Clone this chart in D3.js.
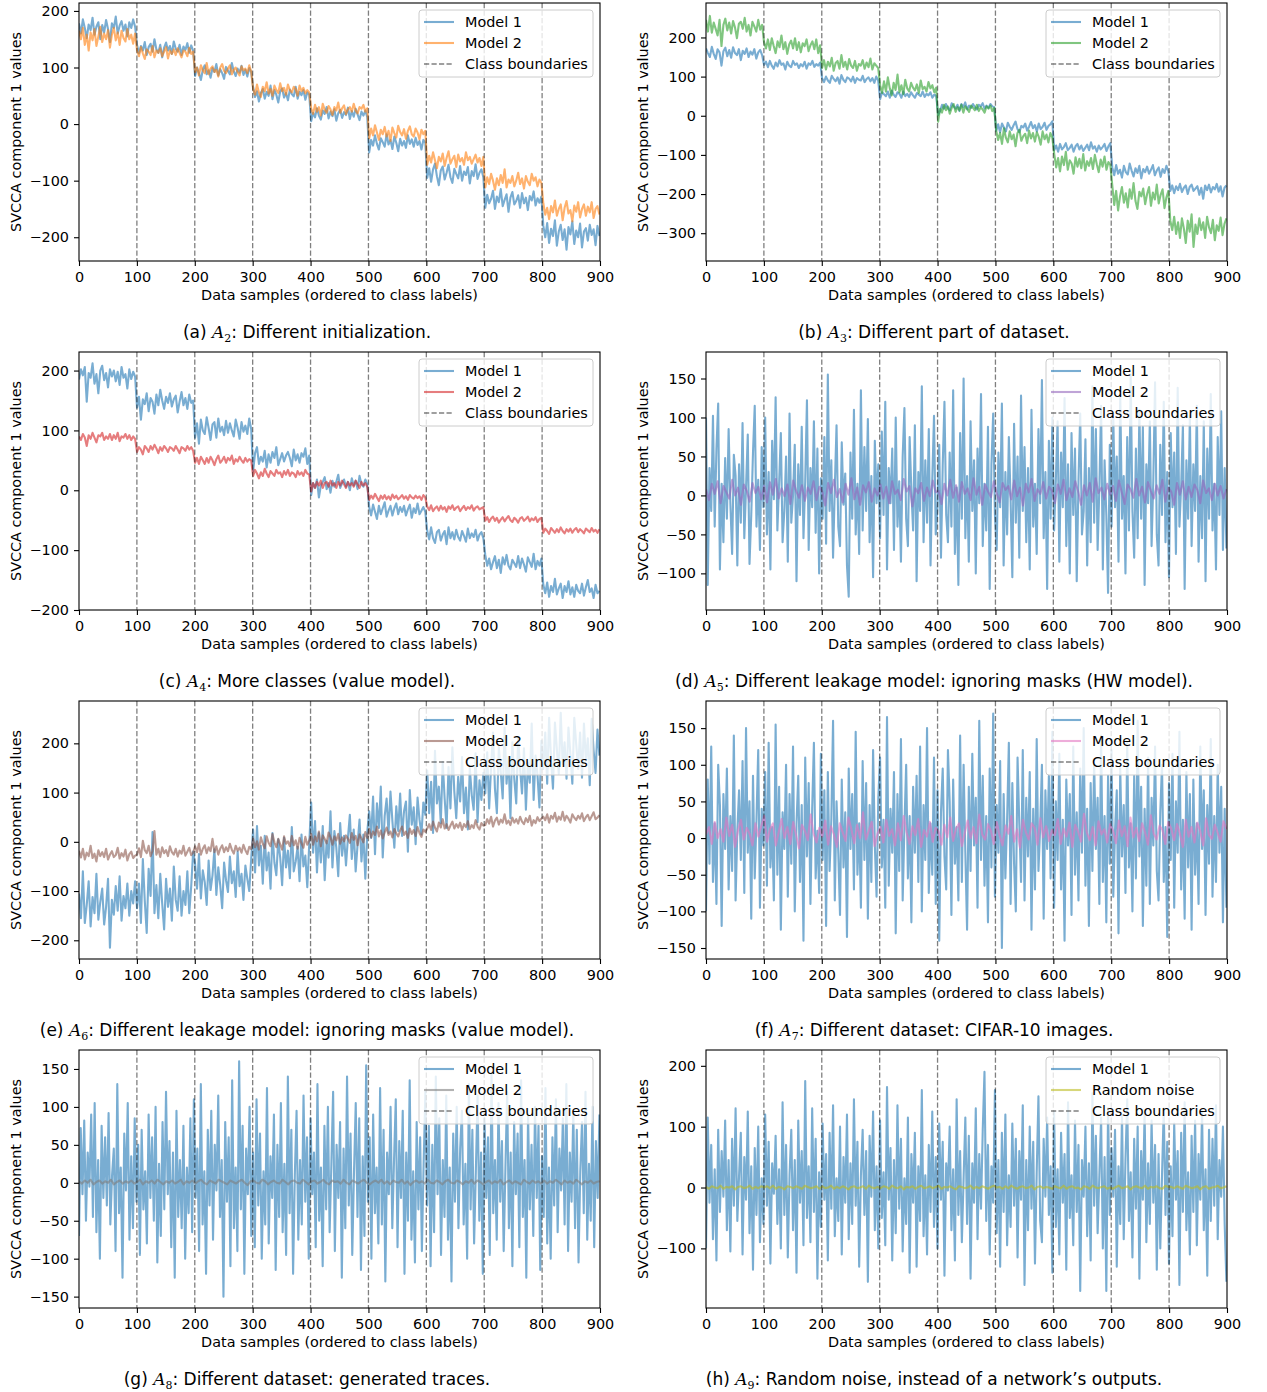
<!DOCTYPE html>
<html>
<head>
<meta charset="utf-8">
<script src="https://cdn.jsdelivr.net/npm/d3@7"></script>
<style>
  body { margin: 0; background: #fff; }
  text { font-family: "DejaVu Sans", sans-serif; fill: #000; }
</style>
</head>
<body>
<svg id="fig" width="1267" height="1392"></svg>
<script>
// SVCCA component-1 values over the data samples, samples ordered by class label.
// Class-structured series keep 30 values per class (one row per class);
// the wide noise-like series keep 300 values, the narrow bands 180.

const xTickLabels = [0, 100, 200, 300, 400, 500, 600, 700, 800, 900];
const classBoundaries = [100, 200, 300, 400, 500, 600, 700, 800];

// (a) A2: different initialization
const a2Model1 = [
  178,160,185,170,152,176,166,188,158,172,180,150,175,162,184,168,145,178,170,190,160,174,182,165,176,155,180,170,185,172,
  140,125,138,130,145,122,136,142,128,150,132,126,140,118,135,144,130,138,124,146,133,128,140,122,137,131,143,126,139,130,
  85,100,90,78,96,104,88,95,82,99,92,106,86,97,90,80,101,94,88,108,93,85,98,91,103,87,96,84,99,92,
  65,48,58,40,55,62,45,57,50,68,44,60,52,38,58,63,47,55,42,61,53,49,66,45,57,51,60,43,56,52,
  5,20,12,28,15,8,24,18,30,10,22,14,26,6,19,25,11,21,16,29,9,23,13,27,17,7,22,15,24,12,
  -50,-28,-38,-20,-35,-45,-25,-32,-40,-18,-36,-28,-44,-22,-33,-48,-26,-38,-30,-42,-20,-35,-27,-40,-24,-37,-30,-45,-28,-33,
  -95,-78,-102,-80,-70,-92,-108,-82,-75,-98,-86,-72,-94,-104,-79,-88,-96,-74,-100,-84,-90,-76,-105,-83,-92,-71,-97,-86,-80,-94,
  -148,-125,-140,-132,-118,-150,-128,-138,-115,-145,-134,-124,-155,-130,-120,-142,-136,-126,-148,-122,-140,-130,-152,-127,-135,-119,-144,-131,-139,-128,
  -180,-200,-175,-210,-185,-198,-170,-215,-190,-178,-205,-186,-222,-182,-195,-172,-212,-188,-200,-176,-218,-190,-184,-206,-178,-196,-186,-214,-180,-198
];
const a2Model2 = [
  165,150,170,140,158,130,162,148,168,138,155,172,145,160,150,166,135,158,170,148,162,140,165,152,146,168,150,158,142,160,
  130,120,136,125,115,132,128,122,138,118,130,126,134,120,128,136,116,130,124,132,122,134,126,118,130,128,120,135,124,128,
  92,100,86,104,95,90,108,88,98,102,92,96,84,100,106,94,90,98,104,88,96,100,92,86,102,95,98,90,104,93,
  62,52,70,56,48,66,58,74,54,62,50,68,60,55,72,58,64,52,70,60,56,66,62,50,68,58,64,54,60,56,
  28,18,34,22,30,15,36,25,20,32,26,16,30,24,38,20,28,33,18,26,30,22,36,24,19,30,27,34,22,28,
  -25,-8,-20,-2,-15,-28,-10,-18,-5,-22,-12,-30,-6,-16,-24,-3,-14,-20,-9,-26,-12,-4,-18,-22,-8,-15,-27,-10,-18,-12,
  -72,-56,-68,-50,-64,-78,-58,-66,-52,-74,-60,-48,-70,-62,-56,-76,-54,-66,-60,-72,-50,-64,-58,-70,-62,-54,-68,-60,-74,-58,
  -112,-94,-106,-88,-100,-116,-96,-108,-90,-104,-80,-112,-98,-104,-92,-110,-100,-86,-106,-96,-114,-92,-102,-108,-88,-100,-94,-110,-98,-104,
  -140,-160,-148,-168,-145,-156,-135,-162,-150,-142,-170,-148,-136,-158,-152,-172,-144,-155,-138,-165,-150,-142,-162,-146,-156,-138,-166,-150,-145,-160
];

// (b) A3: different part of dataset
const a3Model1 = [
  172,160,150,176,158,145,170,162,128,165,174,152,168,148,175,160,155,170,142,166,158,172,150,164,156,170,146,162,168,155,
  130,138,124,140,128,120,136,126,142,130,134,118,138,128,124,140,130,134,122,132,126,138,120,134,130,140,125,132,128,136,
  96,86,100,90,84,102,94,88,98,82,104,92,86,98,95,88,100,84,96,92,90,102,86,94,98,88,96,84,100,90,
  42,60,55,50,62,46,64,54,48,60,56,46,62,50,56,48,60,52,46,58,54,50,62,48,56,52,60,46,54,50,
  2,12,28,18,30,20,14,32,24,18,28,12,30,22,34,16,26,20,30,22,16,28,24,32,18,26,20,30,24,22,
  -38,-22,-42,-20,-30,-40,-18,-28,-36,-24,-15,-34,-42,-26,-30,-20,-38,-28,-16,-32,-24,-40,-20,-34,-28,-18,-36,-26,-22,-14,
  -88,-76,-92,-72,-86,-80,-70,-88,-82,-74,-92,-78,-72,-86,-76,-90,-82,-74,-88,-68,-84,-78,-92,-76,-86,-80,-72,-90,-78,-70,
  -132,-152,-126,-148,-138,-158,-128,-144,-150,-122,-140,-155,-134,-146,-128,-160,-136,-144,-130,-148,-138,-126,-152,-140,-132,-156,-136,-146,-128,-142,
  -192,-178,-198,-180,-190,-174,-195,-184,-178,-200,-182,-176,-192,-186,-180,-202,-184,-212,-178,-190,-176,-196,-182,-188,-174,-194,-180,-206,-184,-178
];
const a3Model2 = [
  245,215,255,212,238,222,205,245,178,232,248,218,238,210,242,225,198,235,240,222,250,215,232,205,240,228,215,245,220,232,
  188,172,195,168,198,178,160,190,175,205,170,188,158,182,192,172,198,168,188,162,185,178,195,165,180,190,170,195,160,180,
  122,142,118,138,126,148,115,135,140,120,155,125,138,118,145,128,122,140,115,132,128,142,120,136,124,146,118,134,128,122,
  78,58,88,62,98,70,52,84,66,105,60,78,55,92,70,62,84,72,65,80,58,90,68,74,62,86,70,78,60,72,
  -15,18,8,28,14,24,5,20,30,10,22,14,28,8,24,18,10,26,20,14,28,12,22,16,8,24,18,26,12,20,
  -38,-62,-44,-72,-32,-56,-68,-40,-60,-48,-78,-44,-36,-64,-52,-46,-70,-38,-58,-44,-66,-42,-54,-74,-40,-60,-48,-68,-44,-56,
  -98,-132,-108,-142,-104,-126,-92,-138,-114,-122,-148,-106,-130,-110,-134,-98,-140,-116,-128,-108,-136,-100,-124,-144,-112,-130,-104,-138,-118,-126,
  -178,-228,-192,-242,-206,-182,-222,-198,-234,-188,-212,-172,-218,-238,-194,-206,-186,-226,-200,-182,-230,-196,-214,-176,-224,-202,-188,-236,-208,-192,
  -268,-292,-258,-302,-272,-312,-262,-288,-325,-268,-296,-252,-335,-278,-302,-262,-292,-272,-312,-258,-285,-300,-266,-318,-280,-294,-260,-305,-276,-262
];

// (c) A4: more classes (value model)
const a4Model1 = [
  185,202,192,206,148,196,188,212,178,194,162,200,208,184,196,172,202,190,200,182,198,176,206,188,194,170,202,186,198,190,
  138,156,118,152,144,162,132,154,148,128,160,142,168,150,136,156,146,162,140,152,158,130,148,164,142,154,136,160,146,150,
  88,112,78,118,100,94,122,104,84,110,114,88,120,98,106,92,116,96,112,100,90,118,104,86,114,98,108,94,120,102,
  32,62,72,44,56,48,66,38,60,46,64,54,72,42,52,62,48,58,64,54,40,68,50,60,46,62,56,70,44,58,
  -8,12,4,18,-12,8,14,22,2,12,-4,16,6,14,26,4,12,18,6,14,0,20,8,16,2,24,10,6,18,10,
  -28,-42,-24,-36,-48,-26,-40,-30,-20,-44,-34,-26,-42,-30,-22,-40,-28,-36,-26,-42,-32,-24,-46,-30,-38,-22,-40,-34,-28,-36,
  -68,-82,-62,-80,-88,-70,-66,-84,-74,-68,-90,-62,-80,-70,-82,-66,-78,-84,-68,-76,-86,-64,-80,-72,-78,-66,-84,-74,-70,-80,
  -108,-126,-114,-132,-120,-110,-130,-116,-138,-112,-124,-108,-126,-132,-116,-122,-128,-110,-130,-114,-124,-136,-112,-120,-128,-106,-132,-118,-126,-114,
  -158,-172,-154,-178,-160,-170,-148,-174,-164,-156,-180,-160,-170,-152,-174,-162,-178,-158,-168,-172,-156,-176,-162,-150,-170,-164,-180,-158,-172,-168
];
const a4Model2 = [
  90,84,94,88,74,92,86,96,88,80,92,90,96,84,90,86,94,84,92,86,96,82,90,88,94,86,92,84,90,86,
  64,72,68,60,74,70,64,74,68,76,70,62,72,66,74,70,64,72,70,66,74,68,62,72,70,66,74,68,72,66,
  46,54,44,56,50,44,54,46,56,50,42,52,58,46,50,56,46,54,50,58,44,52,48,56,50,46,54,48,52,50,
  24,34,28,20,30,24,36,28,22,32,28,24,34,28,30,22,32,26,34,24,30,28,22,32,26,30,24,34,28,26,
  -2,12,4,14,8,16,4,12,14,6,16,8,12,4,14,8,16,10,4,14,8,12,6,16,10,4,14,8,12,6,
  -16,-9,-14,-6,-12,-18,-9,-14,-8,-15,-10,-16,-7,-13,-9,-15,-12,-8,-14,-10,-16,-8,-12,-14,-9,-13,-10,-16,-8,-12,
  -27,-33,-25,-35,-30,-27,-34,-26,-32,-28,-36,-27,-31,-25,-33,-29,-27,-35,-30,-26,-33,-28,-31,-25,-34,-29,-27,-32,-30,-28,
  -51,-45,-53,-47,-44,-51,-46,-54,-49,-45,-52,-47,-43,-50,-53,-46,-49,-54,-47,-45,-51,-48,-44,-52,-47,-50,-45,-53,-48,-46,
  -71,-64,-68,-73,-63,-67,-71,-65,-70,-62,-68,-72,-65,-69,-64,-71,-66,-63,-70,-65,-68,-72,-64,-67,-70,-63,-69,-66,-71,-65
];

// (d) A5: ignoring masks (HW model)
const a5Model1 = [
  100,-115,35,-20,102,-40,60,118,-95,15,-60,48,-30,85,-10,-75,52,25,-90,40,
  -35,93,-55,10,78,-88,-25,55,115,-40,20,-70,62,-15,100,-50,30,-95,70,-5,
  126,-45,15,80,-60,-20,50,-85,105,-35,0,65,-110,40,-25,88,-55,18,122,-70,
  35,-15,95,-48,60,-100,22,-30,75,-62,155,-20,45,-80,10,90,-40,-65,68,-12,
  28,-90,-130,55,-30,110,-50,15,-75,135,-45,62,-20,98,-60,25,-105,70,-10,40,
  -55,82,-25,120,-95,35,-10,60,-70,100,-40,18,-85,50,112,-30,-65,75,5,-45,
  90,-110,30,-20,140,-60,45,-35,85,-90,20,102,-50,-15,65,-80,38,120,-25,-60,
  55,-40,135,-75,10,-115,80,-30,150,-55,25,-85,95,-20,45,-100,60,-10,130,-65,
  15,-45,88,-120,40,105,-25,-70,55,-15,118,-90,30,-50,75,-5,-105,92,-35,50,
  -80,128,-20,62,-60,35,-95,110,-40,15,-75,85,-10,148,-55,30,-120,70,-30,100,
  -45,20,95,-85,55,-15,125,-65,40,-100,80,-25,60,-110,18,105,-50,-20,72,-90,
  35,-60,140,-35,85,-70,10,115,-95,45,-25,-125,65,-40,100,-15,50,-85,130,-30,
  25,-100,75,-45,155,-20,-80,60,-55,110,-30,88,-115,40,-10,95,-65,20,145,-50,
  -90,65,-25,120,-60,30,-105,80,-15,55,-75,138,-40,12,90,-120,45,-30,102,-65,
  40,-20,115,-85,25,-55,95,-110,60,-30,130,-45,15,-95,75,-25,108,-70,35,-68
];
const a5Model2 = [
  8,-6,15,2,18,-10,12,4,-4,20,0,10,-12,14,6,-8,16,3,11,-5,
  12,-9,17,1,21,-4,9,-1,14,-11,19,6,-3,13,-7,10,2,18,-6,11,
  5,-13,16,3,20,-2,8,-9,15,1,22,-5,10,-12,13,4,17,-8,9,0,
  14,-4,11,-10,18,2,7,-6,21,5,12,-14,9,3,16,-7,10,-1,19,4,
  6,-11,15,0,20,-3,13,-8,17,2,9,-6,22,1,11,-12,14,5,-2,18,
  3,-9,16,7,12,-5,19,-1,10,-13,15,4,21,-7,8,2,17,-4,11,6,
  -10,14,2,20,-6,9,-2,18,5,-12,13,0,16,-8,22,3,10,-5,15,1,
  12,-7,19,4,-11,14,8,-3,21,0,11,-9,17,6,-4,13,2,20,-8,10,
  5,-12,16,1,18,-5,11,-2,14,7,-10,19,3,9,-6,15,0,12,-4,8
];

// (e) A6: ignoring masks (value model)
const a6Model1 = [
  -105,-155,-60,-165,-128,-80,-172,-112,-145,-65,-158,-122,-95,-168,-132,-75,-215,-118,-148,-90,-140,-70,-160,-110,-135,-85,-150,-100,-125,-80,
  -135,-85,-165,-35,-120,-185,-55,-110,20,-145,-88,-155,-65,-125,-178,-75,-132,-95,-160,-50,-118,-140,-70,-150,-100,-128,-60,-145,-90,-20,
  -45,-95,-25,-115,-58,-82,-128,-38,-98,-68,-15,-108,-52,-88,-135,-42,-78,-102,-30,-84,-60,-112,-20,-90,-65,-118,-48,-75,-100,-35,
  25,-62,32,-48,-8,-85,12,-58,-22,-95,18,-42,-68,5,-32,-88,8,-52,-18,-74,30,-60,-40,-10,-80,15,-50,-28,-92,-5,
  80,-22,42,-62,18,-42,32,-78,2,-32,62,-52,22,-12,-70,38,-28,12,-48,8,55,-35,25,-60,-5,45,-40,15,-75,20,
  62,8,92,-25,78,28,112,-32,52,88,18,102,42,-12,72,22,98,12,62,82,-20,105,35,70,-5,90,45,15,80,55,
  145,58,122,18,185,78,112,38,162,88,28,152,68,192,102,48,132,82,172,58,110,25,150,95,65,180,40,125,85,140,
  98,182,68,152,222,108,58,192,142,88,232,118,172,48,202,128,78,212,148,98,190,65,160,120,240,85,175,135,70,205,
  148,222,118,252,168,108,242,188,138,262,158,202,128,232,178,118,252,198,148,222,130,240,165,210,115,250,185,140,228,175
];
const a6Model2 = [
  -18,-32,-14,-36,-22,-29,-8,-33,-24,-40,-17,-29,-21,-31,-14,-36,-26,-19,-31,-27,-12,-34,-23,-30,-16,-38,-25,-20,-33,-28,
  -26,-13,-31,2,-17,-23,-8,-29,-19,22,-26,-14,-31,-11,-23,-17,-29,-9,-21,-26,-14,-30,-18,-24,-8,-28,-20,-12,-27,-22,
  -9,-21,-4,-26,-14,-7,-23,-11,-19,6,-21,-9,-26,-14,-7,-21,-11,-19,-4,-16,-24,-8,-18,-12,-22,-6,-17,-25,-10,-15,
  6,-11,1,-16,9,-4,-13,11,-2,-9,16,-1,-11,6,-5,-16,11,-4,1,-9,12,-7,3,-14,8,-3,-12,10,-6,2,
  16,-6,11,1,21,-9,13,6,-3,19,9,-6,11,3,16,-4,9,1,13,6,-2,18,4,12,-7,15,7,-1,20,8,
  26,9,21,14,31,11,23,7,19,29,14,21,9,26,17,11,23,31,14,21,8,27,16,24,12,30,18,10,25,20,
  27,36,24,41,29,21,39,29,46,27,36,24,33,41,27,36,29,39,24,36,30,42,26,34,28,44,31,25,38,33,
  34,46,37,51,31,43,49,35,45,39,56,37,43,34,49,39,46,37,51,41,36,48,40,53,33,44,38,50,42,47,
  51,44,56,39,53,47,59,41,51,45,61,43,53,47,39,56,49,44,53,47,58,42,50,55,44,52,60,46,49,54
];

// (f) A7: CIFAR-10 images
const a7Model1 = [
  -100,80,-35,125,-60,20,-90,100,45,-120,60,-15,95,-70,30,-45,140,-85,10,65,
  -30,105,-75,150,-20,50,-110,85,-55,25,120,-95,40,-10,90,-65,130,-40,15,-85,
  155,-50,70,-125,35,-15,100,-80,60,-35,125,-100,20,85,-60,45,-140,110,-25,75,
  -90,40,130,-55,10,-75,115,-30,65,-120,90,-45,25,160,-85,50,-20,-105,80,-40,
  35,-135,95,-15,60,-70,145,-50,20,-95,105,-30,75,-110,45,-60,120,-10,-80,55,
  110,-40,25,-95,165,-65,40,-20,90,-130,60,-45,135,-85,15,100,-55,30,-115,70,
  -20,85,-60,125,-100,45,-30,150,-75,20,-50,110,-90,65,-140,35,95,-25,-70,120,
  50,-105,80,-35,15,-85,140,-60,100,-20,-125,70,-45,115,-10,55,-95,160,-30,85,
  -65,30,-115,95,-40,170,-80,45,-20,105,-150,60,-55,25,130,-90,75,-35,-100,110,
  20,-60,120,-85,55,-25,90,-125,40,-70,135,-45,15,100,-110,65,-15,85,-55,145,
  -95,50,-30,115,-70,25,-140,80,-10,60,-105,125,-50,35,-85,95,-20,150,-65,40,
  -120,75,-45,105,-15,55,-90,140,-60,30,-115,85,-35,120,-80,10,65,-130,95,-25,
  45,-75,130,-40,20,-100,85,-55,160,-25,70,-120,40,-65,110,-90,55,-10,125,-45,
  -85,35,100,-60,15,-135,75,-30,115,-95,50,-20,145,-70,25,-110,90,-40,60,-125,
  80,-50,20,-90,125,-15,65,-105,45,-35,135,-80,30,-60,100,-20,70,-115,40,-95
];
const a7Model2 = [
  5,15,-8,22,0,12,-5,28,3,18,-12,10,25,-2,14,6,-10,20,2,16,
  30,-5,12,20,-10,8,26,0,15,-8,22,4,-14,18,10,-3,32,6,-6,14,
  2,24,-9,16,5,-12,20,8,-4,28,12,-7,18,0,35,-2,10,22,-11,6,
  15,-6,25,3,12,-10,20,-3,30,8,-8,16,4,26,-12,11,2,22,-5,14,
  9,-9,18,1,28,-4,13,20,-11,7,24,0,15,-7,32,5,-2,19,10,-8,
  22,3,-10,17,6,30,-5,12,-13,25,8,-2,20,14,-9,27,1,16,-4,11,
  4,26,-8,13,2,21,-12,18,9,-5,33,7,-3,15,-10,23,5,12,-6,19,
  10,-7,24,3,16,-11,28,1,14,-4,20,8,-9,31,6,-2,17,11,-8,22,
  13,-3,19,6,-12,25,2,15,-6,21,9,-10,27,4,-1,18,7,-5,23,12
];

// (g) A8: generated traces
const a8Model1 = [
  -70,72,-15,82,-50,40,-5,90,-45,105,-65,30,-100,75,-20,60,-30,92,-55,10,
  45,-90,130,-40,20,-125,65,-10,105,-75,35,-60,85,-25,50,-95,70,-35,15,-80,
  90,-20,60,-50,100,-105,25,-70,80,-35,120,-15,55,-85,40,-125,95,-45,30,-60,
  75,-100,20,-40,85,-65,110,-20,45,-90,130,-55,15,-120,70,-30,95,-75,50,-10,
  115,-45,30,-150,80,-25,60,-110,135,-60,20,-90,160,-35,75,-120,45,-15,100,-70,
  40,-85,110,-30,65,-100,15,-55,125,-80,35,-20,90,-115,50,-45,105,-65,25,-95,
  140,-40,70,-120,10,95,-75,30,-55,115,-25,60,-100,85,-15,40,-85,130,-50,20,
  -110,75,-35,100,-65,25,120,-90,50,-20,80,-125,45,-60,140,-30,65,-95,15,105,
  -45,85,-115,35,-70,155,-25,60,-100,90,-40,20,-80,125,-55,70,-130,40,-15,100,
  -60,30,110,-85,55,-20,95,-120,40,-50,135,-75,15,-105,80,-35,60,-90,25,120,
  -30,75,-110,50,-65,140,-15,85,-95,30,-45,115,-75,20,-130,65,-25,100,-60,45,
  95,-55,25,-100,130,-35,70,-80,15,115,-50,40,-120,85,-20,60,-95,145,-40,30,
  -75,105,-25,55,-90,20,120,-60,40,-110,80,-15,65,-85,135,-45,30,-125,90,-35,
  50,-70,100,-20,75,-115,35,-45,125,-80,20,-100,60,-30,110,-65,45,-10,85,-55,
  130,-90,40,-25,95,-60,70,-105,15,80,-40,120,-75,25,-50,100,-85,55,-20,90
];
const a8Model2 = [
  2,-1,3,0,4,-2,1,3,-1,2,0,4,-2,1,3,-1,2,0,3,-1,
  1,4,-2,2,0,3,-1,4,1,-2,2,0,3,-1,1,4,-2,2,0,3,
  -1,2,4,0,-2,3,1,-1,4,2,0,-2,3,1,-1,2,4,0,-3,2,
  3,0,-1,4,2,-2,1,3,0,-1,4,1,-2,2,3,0,-1,4,1,-2,
  2,3,-1,1,4,0,-2,3,1,2,-1,4,0,-2,3,1,-1,2,4,0,
  -2,1,3,0,4,-1,2,-2,3,1,0,4,-1,2,-3,1,3,0,2,-1,
  4,0,-1,3,1,-2,2,4,0,-1,3,1,-2,2,0,4,-1,3,1,-2,
  1,3,-1,2,0,4,-2,1,3,-1,2,0,-2,4,1,-1,3,0,2,-1,
  3,-1,2,0,4,1,-2,3,0,2,-1,4,1,-2,2,0,3,-1,1,2
];

// (h) A9: random noise instead of a network's outputs
const a9Model1 = [
  -100,115,-25,70,-85,30,-120,95,-40,60,-15,110,-70,45,-105,80,-30,130,-55,20,
  90,-110,50,-20,125,-75,35,-135,65,-45,100,-90,15,-60,120,-30,75,-125,40,-10,
  85,-60,30,-100,140,-45,70,-115,20,95,-70,45,-140,110,-25,60,-95,175,-50,35,
  -90,130,-40,80,-150,25,-65,105,-20,55,-120,90,-35,135,-80,15,-55,100,-110,50,
  -25,120,-85,40,-60,145,-30,75,-130,20,95,-45,60,-155,85,-15,125,-70,35,-100,
  110,-50,25,-95,165,-20,65,-120,45,-75,135,-35,80,-105,15,-60,115,-140,55,-25,
  90,-130,35,-55,160,-80,20,-110,70,-40,125,-65,50,-100,105,-20,75,-145,40,-5,
  100,-70,30,-120,145,-45,60,-90,15,115,-60,85,-150,40,-25,130,-85,55,-35,95,
  190,-55,70,-110,35,-25,160,-75,45,-130,90,-40,120,-95,20,-65,105,-30,80,-115,
  60,-20,135,-160,45,-70,100,-35,75,-125,25,150,-55,-90,80,-15,115,-45,35,-140,
  125,-65,30,-110,90,-25,55,-135,140,-50,20,-95,110,-40,70,-170,45,-15,100,-80,
  40,-120,155,-30,85,-75,20,115,-100,50,-170,130,-45,65,-15,95,-130,35,-60,120,
  -85,45,145,-55,25,-115,80,-35,100,-150,60,-20,125,-90,40,-60,110,-25,70,-135,
  55,-100,20,130,-45,75,-125,35,-80,105,-20,60,-160,90,-40,140,-70,25,-110,85,
  -40,110,-95,55,-20,125,-70,30,-145,95,-55,80,-30,135,-85,45,-15,100,-60,-155
];
const a9Noise = [
  1,-2,2,0,-1,3,-2,1,0,2,-3,1,2,-1,0,3,-2,1,-1,2,
  0,2,-1,3,-2,1,0,-3,2,1,-1,2,0,-2,3,1,-1,0,2,-2,
  2,-1,0,3,-2,1,-1,2,0,-3,1,2,-1,0,2,-2,3,0,-1,1,
  -1,2,1,-2,3,0,-1,2,-3,1,0,2,-2,1,3,-1,0,2,-1,1,
  3,-2,1,0,2,-1,-3,2,1,-1,0,3,-2,1,-1,2,0,-2,1,3,
  0,1,-2,2,-1,3,0,-2,1,2,-1,0,3,-3,1,2,-1,1,0,-2,
  2,0,-1,3,-2,1,2,-1,0,-3,2,1,-2,3,0,-1,1,2,-2,0,
  -2,1,3,-1,0,2,-3,1,2,0,-1,3,-2,1,0,2,-1,-2,3,1,
  1,-1,2,0,-2,3,1,-1,0,2,-3,1,2,-2,0,1,3,-1,0,2
];

const panels = [
  { key: "a", col: 0, row: 0, yDomain: [-242, 214], yTicks: [-200, -100, 0, 100, 200],
    series: [{ values: a2Model1, color: "#1f77b4", label: "Model 1" },
             { values: a2Model2, color: "#ff7f0e", label: "Model 2" }],
    sub: "2", caption: "Different initialization." },
  { key: "b", col: 1, row: 0, yDomain: [-371, 288], yTicks: [-300, -200, -100, 0, 100, 200],
    series: [{ values: a3Model1, color: "#1f77b4", label: "Model 1" },
             { values: a3Model2, color: "#2ca02c", label: "Model 2" }],
    sub: "3", caption: "Different part of dataset." },
  { key: "c", col: 0, row: 1, yDomain: [-200, 231], yTicks: [-200, -100, 0, 100, 200],
    series: [{ values: a4Model1, color: "#1f77b4", label: "Model 1" },
             { values: a4Model2, color: "#d62728", label: "Model 2" }],
    sub: "4", caption: "More classes (value model)." },
  { key: "d", col: 1, row: 1, yDomain: [-147, 184], yTicks: [-100, -50, 0, 50, 100, 150],
    series: [{ values: a5Model1, color: "#1f77b4", label: "Model 1" },
             { values: a5Model2, color: "#9467bd", label: "Model 2" }],
    sub: "5", caption: "Different leakage model: ignoring masks (HW model)." },
  { key: "e", col: 0, row: 2, yDomain: [-238, 286], yTicks: [-200, -100, 0, 100, 200],
    series: [{ values: a6Model1, color: "#1f77b4", label: "Model 1" },
             { values: a6Model2, color: "#8c564b", label: "Model 2" }],
    sub: "6", caption: "Different leakage model: ignoring masks (value model)." },
  { key: "f", col: 1, row: 2, yDomain: [-165, 187], yTicks: [-150, -100, -50, 0, 50, 100, 150],
    series: [{ values: a7Model1, color: "#1f77b4", label: "Model 1" },
             { values: a7Model2, color: "#e377c2", label: "Model 2" }],
    sub: "7", caption: "Different dataset: CIFAR-10 images." },
  { key: "g", col: 0, row: 3, yDomain: [-165, 175], yTicks: [-150, -100, -50, 0, 50, 100, 150],
    series: [{ values: a8Model1, color: "#1f77b4", label: "Model 1" },
             { values: a8Model2, color: "#7f7f7f", label: "Model 2" }],
    sub: "8", caption: "Different dataset: generated traces." },
  { key: "h", col: 1, row: 3, yDomain: [-198, 226], yTicks: [-100, 0, 100, 200],
    series: [{ values: a9Model1, color: "#1f77b4", label: "Model 1" },
             { values: a9Noise, color: "#bcbd22", label: "Random noise" }],
    sub: "9", caption: "Random noise, instead of a network\u2019s outputs." }
];

const svg = d3.select("#fig");
const colLeft = [79, 706];
const rowTop = [3, 352, 701, 1050];
const captionX = [307, 934];
const plotW = 521, plotH = 258;
const fontPx = 14.4;
const lineW = 2.1;
const dash = "5.2,2.3";
const fmt = d3.format("");

function drawPanel(p) {
  const left = colLeft[p.col], top = rowTop[p.row];
  const g = svg.append("g").attr("transform", `translate(${left},${top})`);
  const x = d3.scaleLinear().domain([0, 900]).range([0, plotW]);
  const y = d3.scaleLinear().domain(p.yDomain).range([plotH, 0]);

  g.append("clipPath").attr("id", "clip-" + p.key)
    .append("rect").attr("width", plotW).attr("height", plotH);
  const plot = g.append("g").attr("clip-path", `url(#clip-${p.key})`);

  // each series spans samples 0..899, spread evenly over its stored values
  p.series.forEach(s => {
    const n = s.values.length;
    const line = d3.line()
      .x((d, i) => x(i * 899 / (n - 1)))
      .y(d => y(d));
    plot.append("path")
      .datum(s.values)
      .attr("d", line)
      .attr("fill", "none")
      .attr("stroke", s.color)
      .attr("stroke-opacity", 0.6)
      .attr("stroke-width", lineW)
      .attr("stroke-linejoin", "round");
  });

  plot.selectAll("line.boundary")
    .data(classBoundaries)
    .join("line")
    .attr("class", "boundary")
    .attr("x1", d => x(d)).attr("x2", d => x(d))
    .attr("y1", 0).attr("y2", plotH)
    .attr("stroke", "#000").attr("stroke-opacity", 0.5)
    .attr("stroke-width", 1.3)
    .attr("stroke-dasharray", dash);

  // axes
  const xAxis = d3.axisBottom(x).tickValues(xTickLabels).tickFormat(fmt)
    .tickSize(5).tickSizeOuter(0).tickPadding(5.5);
  const yAxis = d3.axisLeft(y).tickValues(p.yTicks).tickFormat(fmt)
    .tickSize(5).tickSizeOuter(0).tickPadding(5);
  const gx = g.append("g").attr("transform", `translate(0,${plotH})`).call(xAxis);
  const gy = g.append("g").call(yAxis);
  [gx, gy].forEach(a => {
    a.select(".domain").remove();
    a.selectAll("text").attr("font-size", fontPx).attr("font-family", "DejaVu Sans").attr("fill", "#000");
    a.selectAll("line").attr("stroke", "#000").attr("stroke-width", 1.1);
  });

  g.append("rect").attr("width", plotW).attr("height", plotH)
    .attr("fill", "none").attr("stroke", "#000").attr("stroke-width", 1.1);

  g.append("text")
    .attr("x", plotW / 2).attr("y", plotH + 39)
    .attr("text-anchor", "middle").attr("font-size", fontPx)
    .text("Data samples (ordered to class labels)");
  g.append("text")
    .attr("transform", `translate(-58,${plotH / 2}) rotate(-90)`)
    .attr("text-anchor", "middle").attr("font-size", fontPx)
    .text("SVCCA component 1 values");

  // legend
  const lg = g.append("g").attr("transform", `translate(${plotW - 181},7)`);
  lg.append("rect").attr("width", 174).attr("height", 67).attr("rx", 3)
    .attr("fill", "#fff").attr("fill-opacity", 0.8)
    .attr("stroke", "#cccccc").attr("stroke-width", 1);
  const entries = p.series.map(s => ({ label: s.label, color: s.color, dash: null, op: 0.6 }))
    .concat([{ label: "Class boundaries", color: "#000", dash: dash, op: 0.5 }]);
  entries.forEach((e, i) => {
    const yy = 12 + i * 21;
    lg.append("line").attr("x1", 5).attr("x2", 35).attr("y1", yy).attr("y2", yy)
      .attr("stroke", e.color).attr("stroke-opacity", e.op)
      .attr("stroke-width", e.dash ? 1.3 : lineW)
      .attr("stroke-dasharray", e.dash);
    lg.append("text").attr("x", 46).attr("y", yy).attr("dy", "0.36em")
      .attr("font-size", fontPx).text(e.label);
  });

  // caption
  const cap = svg.append("text")
    .attr("x", captionX[p.col]).attr("y", top + 335)
    .attr("text-anchor", "middle")
    .attr("font-size", 17)
    .attr("font-family", "DejaVu Sans");
  cap.append("tspan").text(`(${p.key}) `);
  cap.append("tspan").attr("font-family", "DejaVu Serif").attr("font-style", "italic").text("A");
  cap.append("tspan").attr("font-family", "DejaVu Serif").attr("font-size", 11).attr("dy", 3.5).text(p.sub);
  cap.append("tspan").attr("dy", -3.5).text(": " + p.caption);
}

panels.forEach(drawPanel);
</script>
</body>
</html>
